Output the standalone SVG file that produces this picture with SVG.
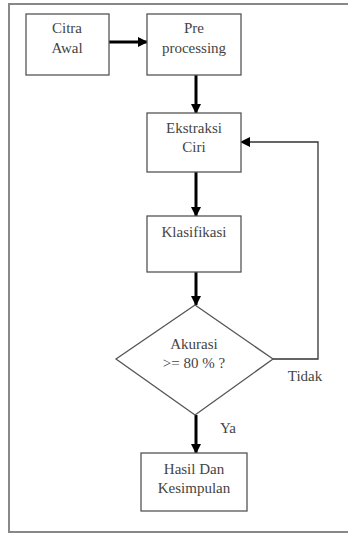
<svg xmlns="http://www.w3.org/2000/svg" width="348" height="533" viewBox="0 0 348 533">
<style>
.box{fill:#fff;stroke:#555;stroke-width:1.3}
.t{font-family:"Liberation Serif","Times New Roman",serif;font-size:15px;fill:#444;text-anchor:middle}
.c{stroke:#000;fill:none}
.thick{stroke-width:3}
.thin{stroke-width:1.3;stroke:#333}
</style>
<defs>
<marker id="ah" markerWidth="10" markerHeight="10" refX="9" refY="5" orient="auto" markerUnits="userSpaceOnUse">
<path d="M0,0 L10,5 L0,10 z" fill="#000"/>
</marker>
</defs>
<rect width="348" height="533" fill="#fff"/>
<path d="M348,4 H9 V532 H348" fill="none" stroke="#888" stroke-width="2"/>
<g id="connectors">
<line class="c thick" x1="109" y1="42" x2="147" y2="42" marker-end="url(#ah)"/>
<line class="c thick" x1="196" y1="75" x2="196" y2="113" marker-end="url(#ah)"/>
<line class="c thick" x1="196" y1="172" x2="196" y2="216" marker-end="url(#ah)"/>
<line class="c thick" x1="196" y1="272" x2="196" y2="305" marker-end="url(#ah)"/>
<line class="c thick" x1="196" y1="415" x2="196" y2="453" marker-end="url(#ah)"/>
<path class="c thin" d="M273,359 H318 V142 H241" marker-end="url(#ah)"/>
<text class="t" x="305" y="381">Tidak</text>
<text class="t" x="228" y="433">Ya</text>
</g>
<g id="citra">
<rect class="box" x="26" y="14" width="83" height="61"/>
<text class="t" x="67" y="33">Citra</text>
<text class="t" x="67" y="53">Awal</text>
</g>
<g id="pre">
<rect class="box" x="147" y="14" width="94" height="61"/>
<text class="t" x="194" y="33">Pre</text>
<text class="t" x="194" y="53">processing</text>
</g>
<g id="ekstraksi">
<rect class="box" x="147" y="113" width="94" height="59"/>
<text class="t" x="194" y="133">Ekstraksi</text>
<text class="t" x="194" y="152">Ciri</text>
</g>
<g id="klasifikasi">
<rect class="box" x="147" y="216" width="94" height="56"/>
<text class="t" x="194" y="237">Klasifikasi</text>
</g>
<g id="akurasi">
<polygon class="box" points="195,305 273,359 195,415 116,359"/>
<text class="t" x="194" y="349">Akurasi</text>
<text class="t" x="194" y="368">&gt;= 80 % ?</text>
</g>
<g id="hasil">
<rect class="box" x="141" y="453" width="106" height="58"/>
<text class="t" x="194" y="474">Hasil Dan</text>
<text class="t" x="194" y="493">Kesimpulan</text>
</g>
</svg>
